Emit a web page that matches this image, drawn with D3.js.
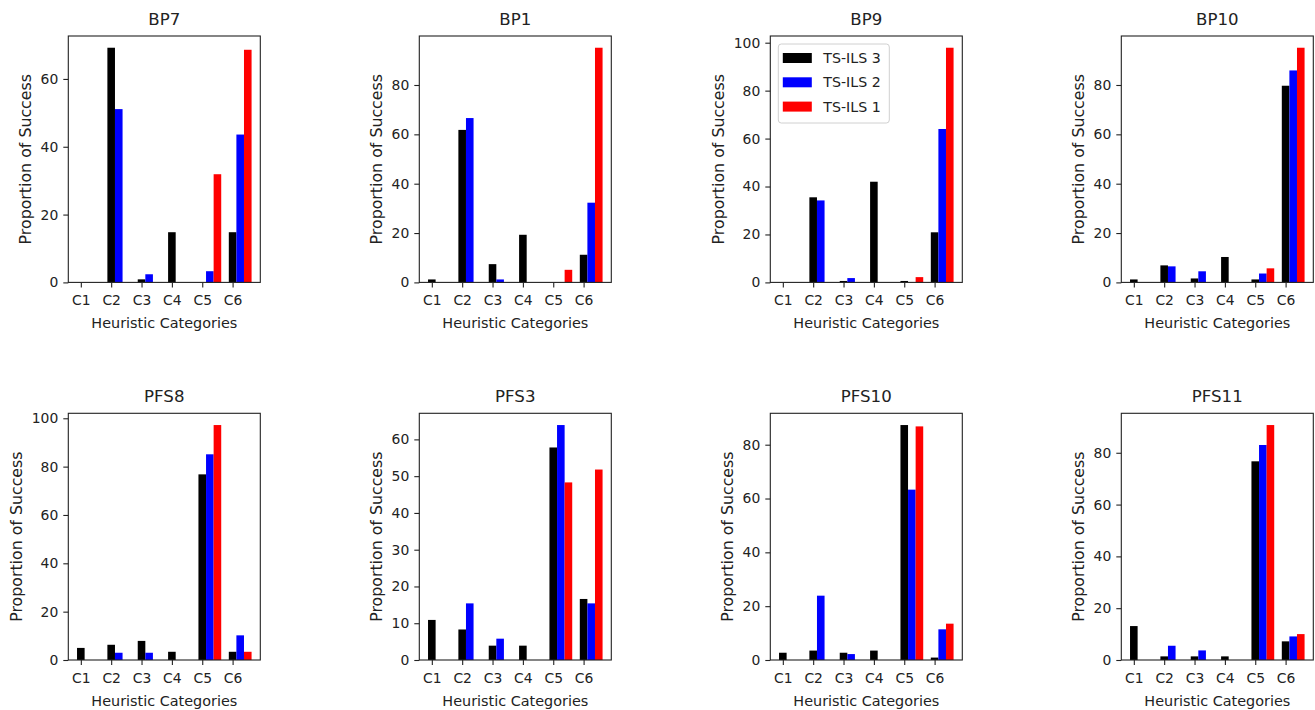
<!DOCTYPE html>
<html>
<head>
<meta charset="utf-8">
<script src="https://cdn.jsdelivr.net/npm/d3@7"></script>
<style>
  body { margin: 0; background: #fff; }
  text { font-family: "DejaVu Sans", sans-serif; }
</style>
</head>
<body>
<div id="chart"></div>
<script>
// categories and series
const categories = ["C1", "C2", "C3", "C4", "C5", "C6"]
const seriesNames = ["TS-ILS 3", "TS-ILS 2", "TS-ILS 1"]
const seriesColors = ["#000000", "#0000ff", "#ff0000"]
const panelTitles = ["BP7", "BP1", "BP9", "BP10", "PFS8", "PFS3", "PFS10", "PFS11"]

// values, one row per series (TS-ILS 3, TS-ILS 2, TS-ILS 1)
const bp7 = [
  [0, 69.2, 0.9, 14.8, 0, 14.8],
  [0, 51.1, 2.4, 0, 3.3, 43.6],
  [0, 0, 0, 0, 31.9, 68.6]]
const bp1 = [
  [1.2, 61.8, 7.4, 19.3, 0, 11.2],
  [0, 66.6, 1.2, 0, 0, 32.3],
  [0, 0, 0, 0, 5.1, 95.1]]
const bp9 = [
  [0, 35.5, 0.6, 42.0, 0.6, 20.9],
  [0, 34.2, 1.8, 0, 0, 64.0],
  [0, 0, 0, 0, 2.2, 97.9]]
const bp10 = [
  [1.2, 6.9, 1.6, 10.3, 1.2, 79.7],
  [0, 6.5, 4.5, 0, 3.6, 85.9],
  [0, 0, 0, 0, 5.7, 95.1]]
const pfs8 = [
  [5.0, 6.3, 7.9, 3.4, 76.8, 3.4],
  [0, 3.0, 3.0, 0, 85.1, 10.2],
  [0, 0, 0, 0, 97.2, 3.4]]
const pfs3 = [
  [10.9, 8.3, 3.9, 3.9, 57.8, 16.6],
  [0, 15.4, 5.8, 0, 63.9, 15.4],
  [0, 0, 0, 0, 48.3, 51.8]]
const pfs10 = [
  [2.7, 3.5, 2.7, 3.5, 87.3, 0.9],
  [0, 23.9, 2.2, 0, 63.3, 11.4],
  [0, 0, 0, 0, 86.8, 13.5]]
const pfs11 = [
  [13.1, 1.4, 1.4, 1.4, 76.7, 7.2],
  [0, 5.5, 3.7, 0, 83.0, 9.1],
  [0, 0, 0, 0, 90.7, 10.0]]

// y tick labels for each panel
const ticksBP7 = [0, 20, 40, 60]
const ticksBP1 = [0, 20, 40, 60, 80]
const ticksBP9 = [0, 20, 40, 60, 80, 100]
const ticksBP10 = [0, 20, 40, 60, 80]
const ticksPFS8 = [0, 20, 40, 60, 80, 100]
const ticksPFS3 = [0, 10, 20, 30, 40, 50, 60]
const ticksPFS10 = [0, 20, 40, 60, 80]
const ticksPFS11 = [0, 20, 40, 60, 80]

const panelValues = [bp7, bp1, bp9, bp10, pfs8, pfs3, pfs10, pfs11]
const panelTicks = [ticksBP7, ticksBP1, ticksBP9, ticksBP10, ticksPFS8, ticksPFS3, ticksPFS10, ticksPFS11]

const width = 1315, height = 710
const barWidth = 0.25
const boxW = 192
const colLeft = [68.3, 419.3, 770.3, 1121.3]
const rowTop = [36, 413.3], rowBottom = [282.4, 660]
const textColor = "#222"

const svg = d3.select("#chart").append("svg")
  .attr("width", width)
  .attr("height", height)

panelTitles.forEach(function(title, p) {
  const col = p % 4, row = Math.floor(p / 4)
  const boxH = rowBottom[row] - rowTop[row]
  const values = panelValues[p]

  const g = svg.append("g")
    .attr("transform", `translate(${colLeft[col]},${rowTop[row]})`)

  // matplotlib-like limits: 5% margin on x, top margin on y
  const lo = -barWidth / 2, hi = categories.length - 1 + 2 * barWidth + barWidth / 2
  const pad = (hi - lo) * 0.05
  const x = d3.scaleLinear().domain([lo - pad, hi + pad]).range([0, boxW])
  const yMax = d3.max(values.flat()) * 1.05
  const y = d3.scaleLinear().domain([0, yMax]).range([boxH, 0])

  // bars
  values.forEach(function(serie, s) {
    g.append("g").selectAll("rect")
      .data(serie)
      .join("rect")
      .attr("x", (d, i) => x(i + s * barWidth - barWidth / 2))
      .attr("width", x(barWidth) - x(0))
      .attr("y", d => y(d))
      .attr("height", d => y(0) - y(d))
      .attr("fill", seriesColors[s])
  })

  // axes
  const xAxis = g.append("g")
    .attr("transform", `translate(0,${boxH})`)
    .call(d3.axisBottom(x).tickValues(d3.range(categories.length))
      .tickFormat(i => categories[i]).tickSize(5).tickPadding(8))
  const yAxis = g.append("g")
    .call(d3.axisLeft(y).tickValues(panelTicks[p]).tickSize(5).tickPadding(5))

  ;[xAxis, yAxis].forEach(function(a) {
    a.select(".domain").remove()
    a.attr("font-size", 13.9).attr("font-family", "DejaVu Sans").attr("color", textColor)
    a.selectAll("line").attr("stroke-width", 1.1)
  })

  // frame on top of bars
  g.append("rect")
    .attr("x", 0).attr("y", 0)
    .attr("width", boxW).attr("height", boxH)
    .attr("fill", "none")
    .attr("stroke", textColor)
    .attr("stroke-width", 1.1)

  g.append("text")
    .attr("x", boxW / 2).attr("y", -11)
    .attr("text-anchor", "middle")
    .style("font-size", "16.6px")
    .style("fill", textColor)
    .text(title)

  g.append("text")
    .attr("x", boxW / 2).attr("y", boxH + 46)
    .attr("text-anchor", "middle")
    .style("font-size", "14.4px")
    .style("fill", textColor)
    .text("Heuristic Categories")

  let maxW = 0
  yAxis.selectAll("text").each(function() { maxW = Math.max(maxW, this.getBBox().width) })
  g.append("text")
    .attr("transform", `translate(${-(maxW + 20)},${boxH / 2}) rotate(-90)`)
    .attr("text-anchor", "middle")
    .style("font-size", "15.8px")
    .style("fill", textColor)
    .text("Proportion of Success")

  // legend only in BP9
  if (title === "BP9") {
    const legend = g.append("g").attr("transform", "translate(8,8)")
    legend.append("rect")
      .attr("width", 111).attr("height", 79)
      .attr("rx", 3)
      .attr("fill", "#fff").attr("fill-opacity", 0.8)
      .attr("stroke", "#d0d0d0")
    const item = legend.selectAll(".lineLegend").data(seriesNames)
      .join("g")
      .attr("class", "lineLegend")
      .attr("transform", (d, i) => `translate(4.5,${9 + i * 24.3})`)
    item.append("rect")
      .attr("width", 29).attr("height", 10)
      .attr("fill", (d, i) => seriesColors[i])
    item.append("text")
      .attr("x", 40.5).attr("y", 5)
      .attr("dy", "0.36em")
      .style("font-size", "14.2px")
      .style("fill", textColor)
      .text(d => d)
  }
})
</script>
</body>
</html>
